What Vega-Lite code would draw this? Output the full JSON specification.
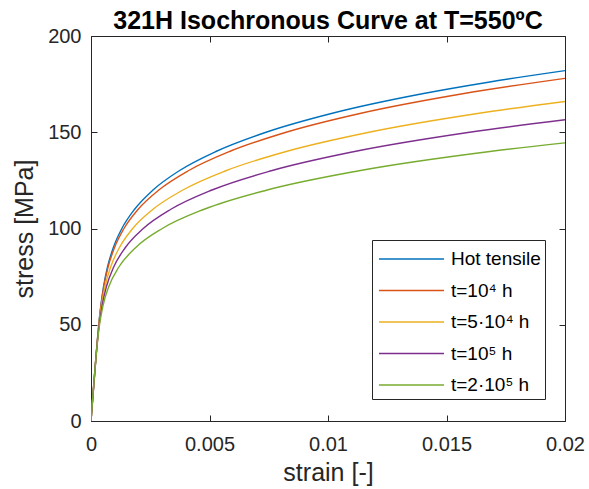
{
  "$schema": "https://vega.github.io/schema/vega-lite/v6.json",
  "autosize": "none",
  "width": 474,
  "height": 385,
  "padding": {"left": 91, "top": 36, "right": 24, "bottom": 68},
  "background": "white",
  "config": {
    "font": "Liberation Sans",
    "view": {"stroke": "#262626", "strokeWidth": 1},
    "axis": {
      "domain": false,
      "grid": false,
      "tickColor": "#262626",
      "tickSize": -6,
      "labelColor": "#262626",
      "titleColor": "#262626",
      "labelFont": "Liberation Sans",
      "titleFont": "Liberation Sans",
      "labelFontSize": 20,
      "titleFontSize": 25,
      "titleFontWeight": "normal"
    }
  },
  "title": {
    "text": "321H Isochronous Curve at T=550ºC",
    "font": "Liberation Sans",
    "fontSize": 25,
    "fontWeight": "bold",
    "color": "#000000",
    "anchor": "middle",
    "offset": -8
  },
  "data": {
    "values": [
      {"series": "Hot tensile", "strain": 0, "stress": 0},
      {"series": "Hot tensile", "strain": 0.000254, "stress": 40},
      {"series": "Hot tensile", "strain": 0.000327, "stress": 50},
      {"series": "Hot tensile", "strain": 0.000415, "stress": 60},
      {"series": "Hot tensile", "strain": 0.000531, "stress": 70},
      {"series": "Hot tensile", "strain": 0.000696, "stress": 80},
      {"series": "Hot tensile", "strain": 0.000940, "stress": 90},
      {"series": "Hot tensile", "strain": 0.001303, "stress": 100},
      {"series": "Hot tensile", "strain": 0.001840, "stress": 110},
      {"series": "Hot tensile", "strain": 0.002616, "stress": 120},
      {"series": "Hot tensile", "strain": 0.003722, "stress": 130},
      {"series": "Hot tensile", "strain": 0.005270, "stress": 140},
      {"series": "Hot tensile", "strain": 0.007385, "stress": 150},
      {"series": "Hot tensile", "strain": 0.010223, "stress": 160},
      {"series": "Hot tensile", "strain": 0.013978, "stress": 170},
      {"series": "Hot tensile", "strain": 0.016763, "stress": 176},
      {"series": "Hot tensile", "strain": 0.02, "stress": 182},
      {"series": "t=10⁴ h", "strain": 0, "stress": 0},
      {"series": "t=10⁴ h", "strain": 0.000255, "stress": 40},
      {"series": "t=10⁴ h", "strain": 0.000329, "stress": 50},
      {"series": "t=10⁴ h", "strain": 0.000420, "stress": 60},
      {"series": "t=10⁴ h", "strain": 0.000543, "stress": 70},
      {"series": "t=10⁴ h", "strain": 0.000722, "stress": 80},
      {"series": "t=10⁴ h", "strain": 0.000990, "stress": 90},
      {"series": "t=10⁴ h", "strain": 0.001392, "stress": 100},
      {"series": "t=10⁴ h", "strain": 0.001990, "stress": 110},
      {"series": "t=10⁴ h", "strain": 0.002862, "stress": 120},
      {"series": "t=10⁴ h", "strain": 0.004107, "stress": 130},
      {"series": "t=10⁴ h", "strain": 0.005848, "stress": 140},
      {"series": "t=10⁴ h", "strain": 0.008234, "stress": 150},
      {"series": "t=10⁴ h", "strain": 0.011439, "stress": 160},
      {"series": "t=10⁴ h", "strain": 0.015683, "stress": 170},
      {"series": "t=10⁴ h", "strain": 0.02, "stress": 178},
      {"series": "t=5·10⁴ h", "strain": 0, "stress": 0},
      {"series": "t=5·10⁴ h", "strain": 0.000257, "stress": 40},
      {"series": "t=5·10⁴ h", "strain": 0.000337, "stress": 50},
      {"series": "t=5·10⁴ h", "strain": 0.000441, "stress": 60},
      {"series": "t=5·10⁴ h", "strain": 0.000594, "stress": 70},
      {"series": "t=5·10⁴ h", "strain": 0.000829, "stress": 80},
      {"series": "t=5·10⁴ h", "strain": 0.001195, "stress": 90},
      {"series": "t=5·10⁴ h", "strain": 0.001760, "stress": 100},
      {"series": "t=5·10⁴ h", "strain": 0.002615, "stress": 110},
      {"series": "t=5·10⁴ h", "strain": 0.003877, "stress": 120},
      {"series": "t=5·10⁴ h", "strain": 0.005686, "stress": 130},
      {"series": "t=5·10⁴ h", "strain": 0.008235, "stress": 140},
      {"series": "t=5·10⁴ h", "strain": 0.011733, "stress": 150},
      {"series": "t=5·10⁴ h", "strain": 0.016450, "stress": 160},
      {"series": "t=5·10⁴ h", "strain": 0.02, "stress": 166},
      {"series": "t=10⁵ h", "strain": 0, "stress": 0},
      {"series": "t=10⁵ h", "strain": 0.000260, "stress": 40},
      {"series": "t=10⁵ h", "strain": 0.000346, "stress": 50},
      {"series": "t=10⁵ h", "strain": 0.000468, "stress": 60},
      {"series": "t=10⁵ h", "strain": 0.000656, "stress": 70},
      {"series": "t=10⁵ h", "strain": 0.000958, "stress": 80},
      {"series": "t=10⁵ h", "strain": 0.001443, "stress": 90},
      {"series": "t=10⁵ h", "strain": 0.002206, "stress": 100},
      {"series": "t=10⁵ h", "strain": 0.003371, "stress": 110},
      {"series": "t=10⁵ h", "strain": 0.005105, "stress": 120},
      {"series": "t=10⁵ h", "strain": 0.007606, "stress": 130},
      {"series": "t=10⁵ h", "strain": 0.011123, "stress": 140},
      {"series": "t=10⁵ h", "strain": 0.015976, "stress": 150},
      {"series": "t=10⁵ h", "strain": 0.02, "stress": 156.5},
      {"series": "t=2·10⁵ h", "strain": 0, "stress": 0},
      {"series": "t=2·10⁵ h", "strain": 0.000264, "stress": 40},
      {"series": "t=2·10⁵ h", "strain": 0.000360, "stress": 50},
      {"series": "t=2·10⁵ h", "strain": 0.000508, "stress": 60},
      {"series": "t=2·10⁵ h", "strain": 0.000756, "stress": 70},
      {"series": "t=2·10⁵ h", "strain": 0.001176, "stress": 80},
      {"series": "t=2·10⁵ h", "strain": 0.001878, "stress": 90},
      {"series": "t=2·10⁵ h", "strain": 0.003009, "stress": 100},
      {"series": "t=2·10⁵ h", "strain": 0.004775, "stress": 110},
      {"series": "t=2·10⁵ h", "strain": 0.007433, "stress": 120},
      {"series": "t=2·10⁵ h", "strain": 0.011313, "stress": 130},
      {"series": "t=2·10⁵ h", "strain": 0.016831, "stress": 140},
      {"series": "t=2·10⁵ h", "strain": 0.02, "stress": 144.5}
    ]
  },
  "layer": [
    {
      "mark": {"type": "line", "strokeWidth": 1.4, "interpolate": "monotone", "clip": true},
      "encoding": {
        "x": {
          "field": "strain", "type": "quantitative",
          "scale": {"domain": [0, 0.02], "nice": false},
          "axis": {"orient": "bottom", "values": [0, 0.005, 0.01, 0.015, 0.02], "format": "~g", "title": "strain [-]", "labelPadding": 19, "titlePadding": 6, "labelFlush": false}
        },
        "y": {
          "field": "stress", "type": "quantitative",
          "scale": {"domain": [0, 200], "nice": false},
          "axis": {"orient": "left", "values": [0, 50, 100, 150, 200], "title": "stress [MPa]", "labelPadding": 16, "titlePadding": 10}
        },
        "color": {
          "field": "series", "type": "nominal",
          "scale": {
            "domain": ["Hot tensile", "t=10⁴ h", "t=5·10⁴ h", "t=10⁵ h", "t=2·10⁵ h"],
            "range": ["#0072BD", "#D95319", "#EDB120", "#7E2F8E", "#77AC30"]
          },
          "legend": {
            "title": null,
            "orient": "none",
            "legendX": 281,
            "legendY": 204,
            "strokeColor": "#262626",
            "fillColor": "white",
            "padding": 4,
            "symbolType": "M-0.857,0H3.786",
            "symbolSize": 784,
            "symbolStrokeWidth": 1.5,
            "symbolFillColor": "transparent",
            "labelFontSize": 19,
            "labelColor": "#000000",
            "labelFont": "Liberation Sans",
            "rowPadding": 6.5,
            "labelOffset": 45
          }
        }
      }
    },
    {
      "mark": {"type": "line", "strokeOpacity": 0},
      "encoding": {
        "x": {
          "field": "strain", "type": "quantitative",
          "scale": {"domain": [0, 0.02], "nice": false},
          "axis": {"orient": "top", "values": [0, 0.005, 0.01, 0.015, 0.02], "labels": false, "title": null}
        },
        "y": {
          "field": "stress", "type": "quantitative",
          "scale": {"domain": [0, 200], "nice": false},
          "axis": {"orient": "right", "values": [0, 50, 100, 150, 200], "labels": false, "title": null}
        },
        "detail": {"field": "series"}
      }
    }
  ],
  "resolve": {"axis": {"x": "independent", "y": "independent"}}
}
